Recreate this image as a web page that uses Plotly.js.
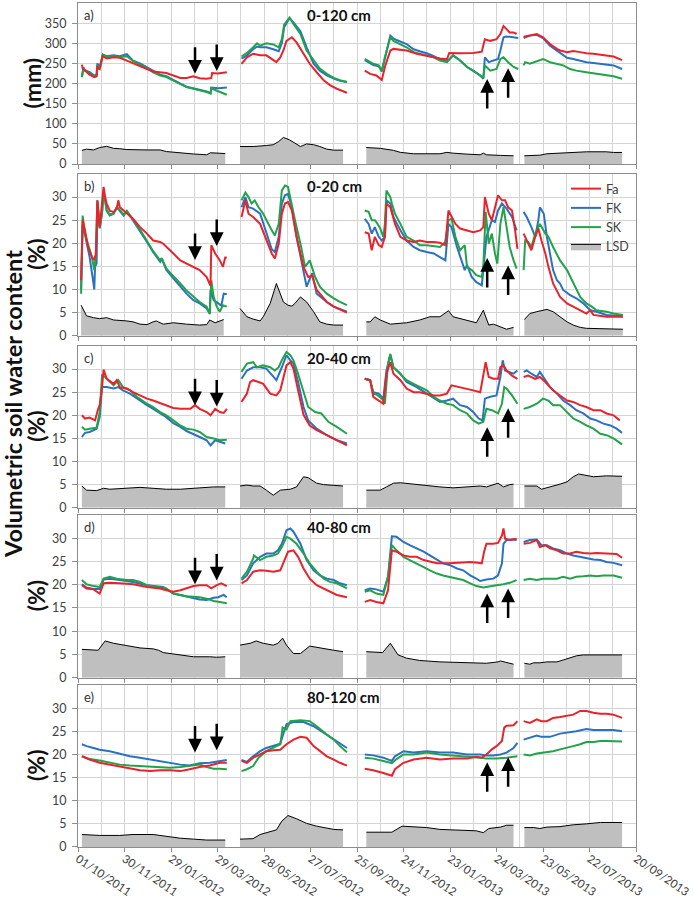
<!DOCTYPE html>
<html><head><meta charset="utf-8">
<script src="https://cdn.plot.ly/plotly-3.0.1.min.js"></script>
<style>html,body{margin:0;padding:0;background:#fff}#chart{width:694px;height:901px}</style>
</head><body><div id="chart"></div>
<script>
// x = days since 01/10/2011
const xTickDays = [0,60,120,180,240,300,360,420,480,540,600,660,720];
const xTickLabels = ['01/10/2011','30/11/2011','29/01/2012','29/03/2012','28/05/2012','27/07/2012','25/09/2012','24/11/2012','23/01/2013','24/03/2013','23/05/2013','22/07/2013','20/09/2013'];
const seriesNames = ['Fa','FK','SK','LSD'];
const panelLetters = ['a)','b)','c)','d)','e)'];
const depthLabels = ['0-120 cm','0-20 cm','20-40 cm','40-80 cm','80-120 cm'];
const yUnitLabels = ['(mm)','(%)','(%)','(%)','(%)'];
const yTicksMm = [0,50,100,150,200,250,300,350];
const yTicksPct = [0,5,10,15,20,25,30];
const arrowDays = [151,179,528,555];

// ---- panel a: 0-120 cm (mm) ----
const a_Fa = [[5,247],[6,238],[9,232],[15,222],[21,216],[24,218],[25,240],[28,236],[32,268],[37,262],[46,265],[54,264],[63,257],[71,250],[80,243],[89,236],[97,230],[106,227],[114,226],[123,220],[132,214],[140,214],[149,218],[157,213],[166,212],[172,214],[173,226],[180,225],[192,228],
null,[211,249],[218,265],[226,274],[235,270],[243,270],[252,257],[256,253],[261,265],[265,282],[269,306],[276,315],[282,302],[291,274],[299,249],[308,228],[317,208],[325,196],[334,187],[347,177],
null,[370,232],[377,224],[385,220],[392,209],[396,241],[403,282],[407,286],[424,282],[437,274],[450,268],[467,262],[476,260],[479,276],[493,275],[510,276],[521,279],[525,310],[532,306],[540,310],[545,323],[549,343],[553,335],[557,327],[562,327],[566,323],
null,[575,316],[583,319],[592,323],[600,315],[609,298],[618,286],[622,282],[631,278],[639,281],[648,278],[656,275],[665,274],[674,271],[682,270],[691,267],[702,258]];
const a_FK = [[5,216],[7,240],[9,233],[15,228],[21,220],[24,222],[25,250],[28,240],[32,272],[37,268],[46,270],[54,268],[63,273],[71,257],[80,250],[89,240],[97,230],[106,222],[114,218],[123,210],[132,200],[140,192],[149,188],[157,185],[166,180],[171,176],[172,190],[181,188],[192,190],
null,[211,262],[218,270],[226,285],[231,292],[235,290],[243,290],[252,285],[259,280],[263,300],[266,340],[269,350],[273,362],[278,352],[287,330],[295,290],[304,249],[312,232],[321,220],[330,212],[338,207],[347,204],
null,[370,258],[377,250],[381,246],[388,243],[392,230],[396,262],[403,319],[407,312],[411,308],[424,298],[433,285],[441,280],[450,275],[459,268],[467,260],[476,254],[484,270],[493,257],[502,241],[510,232],[519,220],[523,212],[525,265],[530,253],[536,257],[542,261],[545,282],[549,315],[553,317],[568,313],
null,[575,313],[583,319],[592,321],[600,313],[609,294],[618,282],[626,270],[631,264],[639,261],[648,257],[656,253],[665,251],[674,249],[682,247],[691,245],[702,236]];
const a_SK = [[5,216],[7,238],[9,232],[15,226],[21,218],[24,220],[25,245],[28,238],[32,272],[37,266],[46,268],[54,266],[63,268],[71,256],[80,248],[89,238],[97,228],[106,220],[114,216],[123,208],[132,199],[140,191],[149,187],[157,184],[166,179],[171,175],[172,188],[177,184],[185,178],[192,172],
null,[211,267],[218,276],[226,290],[231,300],[235,294],[243,300],[252,297],[259,290],[263,310],[266,346],[269,354],[273,364],[278,348],[287,323],[295,282],[304,257],[312,237],[321,224],[330,214],[338,208],[347,204],
null,[370,261],[377,253],[381,249],[388,245],[392,232],[396,265],[403,315],[407,306],[411,302],[424,290],[433,278],[441,274],[450,270],[459,265],[467,257],[476,253],[484,270],[493,257],[502,241],[510,232],[519,220],[523,214],[525,245],[532,232],[540,236],[545,261],[549,265],[555,253],[562,241],[568,236],
null,[575,245],[577,253],[583,249],[592,255],[600,261],[609,253],[618,249],[626,245],[635,236],[643,232],[656,228],[665,225],[674,222],[682,220],[691,218],[702,212]];
const a_LSD = [[5,34],[11,37],[20,35],[28,41],[37,44],[46,39],[54,38],[63,36],[89,35],[106,35],[114,31],[132,27],[149,25],[166,23],[171,28],[190,26],
null,[209,43.5],[226,43.5],[243,46],[252,48],[259,56],[265,66],[273,60],[282,48],[287,43.5],[295,50],[304,48],[312,43.5],[321,37],[330,34.5],[342,34.5],
null,[372,41],[390,39],[407,34],[416,29],[433,25.5],[450,25.5],[467,25.5],[476,29],[484,27],[502,24.6],[519,23],[523,27],[527,23],[545,21.4],[562,20.5],
null,[576,20.5],[588,20.5],[596,22],[605,25.5],[618,27],[639,28.8],[656,30.4],[682,30.4],[691,28.8],[702,28.8]];

// ---- panel b: 0-20 cm (%) ----
const b_Fa = [[4,12],[6,25],[9,22.8],[13,19.2],[18,17],[20,16.4],[23,17.4],[25,29.3],[28,23.5],[31,28.6],[33,32.2],[35,30],[37,28.6],[41,27],[46,26.8],[50,27.5],[52,29.3],[54,27.8],[63,26.4],[71,25.3],[80,23.5],[89,22.1],[97,20.6],[106,20.3],[110,19.9],[114,19.2],[123,17.8],[132,16.3],[140,15.6],[149,14.9],[157,14.2],[166,12.7],[171,10.8],[172,19.6],[177,17.8],[183,16.3],[187,14.9],[190,16.9],[192,16.9],
null,[211,25.7],[216,29.3],[220,26.4],[226,25.7],[235,24.2],[243,20.6],[250,17.8],[254,16.7],[259,19.9],[263,26.4],[267,28.6],[271,28.9],[276,27.1],[282,21.4],[291,14.9],[297,12.7],[302,13],[308,9.9],[321,7.3],[330,6.3],[347,5],
null,[370,22.4],[375,22.1],[379,18.5],[383,21.4],[388,19.6],[392,19.2],[396,21.4],[398,28.6],[403,27.8],[409,24.2],[416,21.4],[424,20.6],[433,20.3],[441,20.6],[450,20.3],[459,20.3],[467,20.1],[474,19.6],[478,27.1],[482,25.7],[487,24.2],[493,23.2],[502,22.8],[510,22.4],[519,22.8],[523,23.5],[525,30],[530,26.4],[534,25],[538,27.5],[542,30.4],[547,29.3],[551,29.3],[555,27.8],[560,27.1],[564,22.8],[567,18.8],
null,[575,22.1],[579,20.6],[585,18.5],[590,21.4],[594,23.2],[598,20.6],[603,17.8],[607,14.9],[613,11.3],[622,8.4],[631,7],[639,6.3],[648,5.5],[656,4.8],[661,5.5],[665,4.5],[682,4.1],[703,4.1]];
const b_FK = [[4,10],[6,24],[7,23.5],[11,19.9],[15,17],[20,11.3],[21,10],[22,14.9],[24,15.6],[25,28.9],[28,23.5],[31,26.4],[33,31.4],[35,29.3],[37,27],[41,26],[46,26.4],[50,27.8],[54,27],[59,26],[63,27],[71,25],[80,22.8],[89,20.3],[97,18.1],[106,16],[108,16.7],[114,14.2],[123,12.4],[132,10.6],[140,9.1],[149,7.7],[157,7],[166,5.9],[170,4.8],[171,9.9],[175,7.7],[181,7],[185,6.5],[188,9.1],[192,9],
null,[211,27.8],[216,30],[220,27.8],[226,27.5],[235,26.4],[243,22.1],[250,18.7],[254,18.1],[259,21.4],[263,28.6],[267,30.4],[271,30.7],[276,27.8],[282,21.4],[289,15.6],[295,10.6],[302,13.5],[308,9.1],[321,7.3],[330,6.3],[347,5.2],
null,[370,25.3],[375,24.2],[379,22.1],[383,23.5],[388,21.4],[392,20.6],[396,21.4],[398,29.3],[403,28.6],[407,25.7],[416,22.8],[424,20.6],[433,19.2],[441,18.5],[450,18.1],[459,17.8],[467,17],[474,16.3],[478,24.2],[482,23.5],[489,19.2],[495,16.3],[499,14.2],[502,15.3],[508,12.7],[514,11.6],[521,10.9],[523,14.2],[527,21.4],[534,25],[538,24.6],[542,27.1],[547,28.6],[553,27.5],[560,25.7],[566,22.8],
null,[575,26.8],[579,25.7],[585,23.5],[590,21.4],[594,25],[596,27.8],[601,26.4],[605,21.4],[609,17.8],[613,14.2],[618,12],[622,11.3],[626,9.9],[635,8.8],[643,8.1],[652,7],[661,5.5],[669,5.2],[682,4.5],[691,4.3],[703,4.2]];
const b_SK = [[4,9.1],[6,26],[9,22],[13,19.6],[18,17],[21,14.2],[23,17.8],[25,29.3],[28,23.2],[31,26.6],[33,31],[35,29.3],[37,27.2],[41,26.2],[46,26.5],[50,27.8],[54,27.2],[59,26.2],[63,27],[71,25.2],[80,23],[89,20.5],[97,18.3],[106,16.3],[108,16.8],[114,14.5],[123,13],[132,11.3],[140,9.8],[149,8.4],[157,7.3],[166,6.3],[170,4.7],[172,12],[175,8.4],[179,6.3],[183,5.2],[187,6.6],[192,6.3],
null,[211,29.3],[216,31],[220,30],[224,28.6],[228,29.3],[233,27.8],[239,26.4],[243,25],[250,22.8],[254,21.7],[259,24.2],[263,31.4],[267,32.5],[271,32.2],[276,28.6],[280,25],[287,19.9],[293,14.9],[299,16.3],[306,12.7],[312,10.6],[321,9.1],[330,8.1],[338,7.3],[347,6.6],
null,[370,27.1],[375,26.8],[379,25],[383,25],[385,24.6],[390,23.2],[394,21.4],[396,24.2],[398,31.4],[403,30],[405,28.6],[409,26.4],[416,24.2],[424,21.4],[433,20.6],[441,19.6],[450,19.6],[459,19.4],[467,19.2],[474,20.3],[478,25],[482,25.3],[487,21.4],[493,18.5],[499,19.6],[502,14.9],[508,14.2],[514,13.1],[521,12.7],[523,14.9],[526,26.8],[530,19.9],[534,22.1],[538,17.8],[541,15.6],[545,24.2],[549,27.8],[553,23.5],[557,19.2],[562,16.3],[566,14.5],
null,[575,14.2],[577,20.6],[581,20.3],[585,19.2],[590,22.1],[596,24.2],[603,22.1],[607,21.4],[613,19.2],[622,16.3],[631,14.2],[639,11.3],[648,8.4],[656,7],[663,6.3],[669,5.5],[682,5.2],[691,4.8],[703,4.5]];
const b_LSD = [[4,6.6],[7,5.5],[11,4.3],[20,3.9],[28,3.7],[37,3.9],[46,3.4],[63,3.2],[71,3],[80,2.5],[89,2.4],[97,3],[101,3.2],[110,2.5],[123,2.8],[140,2.5],[157,2.3],[166,2.4],[170,3.4],[177,2.8],[188,3.5],
null,[209,5.9],[218,4.1],[226,3.6],[235,3.2],[239,4.1],[248,7],[256,11.3],[265,7.3],[271,6.6],[276,6.4],[280,7],[287,8.4],[295,7.3],[304,5.2],[312,3],[321,2.5],[330,2.3],[342,2.3],
null,[372,3],[377,3],[383,4.1],[390,3.4],[403,2.5],[424,2.8],[441,3.4],[454,4.1],[467,4.1],[478,5.4],[484,4.1],[493,3.7],[502,3.4],[514,2.8],[523,5.5],[530,2.3],[536,2.5],[545,1.9],[553,1.4],[562,1.8],
null,[576,3.5],[583,4.8],[592,5.2],[605,5.7],[613,5.2],[622,4.1],[631,3],[639,2.3],[648,1.8],[656,1.6],[674,1.5],[682,1.4],[703,1.4]];

// ---- panel c: 20-40 cm (%) ----
const c_Fa = [[5,20],[9,19.3],[15,19.5],[22,18.9],[26,21.4],[28,22.2],[31,26],[33,29.9],[37,27.9],[46,26.8],[50,27.6],[54,26.1],[63,25.8],[71,25],[80,24.3],[89,23.6],[97,23.2],[106,22.7],[114,22.2],[123,21.6],[132,21.4],[145,21.4],[151,22.2],[157,21.4],[166,20.7],[171,20],[177,21.4],[183,20.7],[188,20.5],[192,21.4],
null,[211,22.9],[218,24.7],[222,27.2],[226,27.6],[233,27.2],[239,26.8],[248,24.7],[256,24.3],[261,25.4],[265,28.3],[269,30.8],[274,31.5],[278,30.1],[284,25.4],[291,20.1],[299,17.8],[308,16.8],[321,15.7],[334,14.6],[347,13.5],
null,[370,27.9],[377,27.6],[381,24],[388,23.2],[394,22.5],[398,29],[403,31.5],[407,29],[416,27.6],[424,25.8],[433,25],[441,25],[450,24.7],[459,24.3],[467,24.3],[476,24.7],[482,26.5],[493,26.1],[502,25.8],[510,25.4],[519,25],[523,28.3],[526,31.5],[530,28.3],[536,27.9],[542,27.9],[545,30.4],[549,30.8],[553,29.7],[560,28.6],[567,27.9],
null,[575,28.3],[581,28.6],[590,27.9],[596,28.3],[603,27.2],[613,25.4],[622,24.3],[631,23.2],[639,22.9],[648,22.2],[656,21.8],[665,21.1],[674,21.1],[682,20.4],[691,20],[699,18.9]];
const c_FK = [[5,15.3],[9,16.2],[15,16.4],[24,17.1],[28,19.6],[31,26.1],[37,26.1],[46,25.8],[52,26.1],[58,25.4],[67,24.7],[76,23.6],[89,22.2],[97,21.4],[106,20.4],[114,19.6],[123,18.3],[132,17.5],[140,16.6],[149,16],[157,15.3],[166,14.6],[171,13.5],[177,14.6],[183,14.2],[190,13.9],
null,[211,27.9],[218,29.7],[226,30.4],[235,30.4],[243,30.1],[252,28.3],[256,27.6],[263,30.4],[269,33],[274,31.9],[278,31.2],[284,27.2],[291,21.8],[297,18.9],[308,17.1],[321,15.7],[334,14.6],[347,13.9],
null,[370,27.9],[377,27.6],[381,25],[388,24.7],[394,23.6],[398,29.7],[403,33],[407,30.4],[416,29],[424,27.2],[437,26.1],[450,24.7],[459,23.6],[467,22.9],[476,23.2],[484,23.6],[493,22.2],[502,21.8],[510,20.7],[517,19.3],[522,18.9],[525,23.6],[532,24],[540,24.3],[545,28.3],[548,31.9],[551,29.7],[557,29.4],[562,29],[567,29.7],
null,[575,29.4],[579,29.7],[585,29],[592,28.3],[596,29.4],[603,27.6],[609,26.1],[618,24.7],[626,23.2],[635,22.2],[643,21.1],[652,20.4],[661,19.3],[669,18.9],[678,18.2],[687,17.8],[695,17.1],[702,16.2]];
const c_SK = [[5,17.5],[9,16.9],[15,17.1],[24,17.3],[28,20.7],[31,28.6],[35,28.3],[41,27.2],[46,26.5],[52,27.6],[58,26.1],[67,25.4],[76,24],[89,22.5],[97,21.8],[106,20.7],[114,20],[123,18.9],[132,17.8],[140,17.1],[149,16.9],[157,16.4],[166,15.3],[175,15],[183,14.6],[192,14.7],
null,[211,29.4],[218,31.2],[226,31.5],[231,30.4],[239,30.8],[248,30.4],[254,29.7],[259,30.4],[263,31.9],[269,33.7],[274,33],[278,31.9],[284,29],[291,25],[297,21.8],[306,20.7],[314,20.4],[323,18.6],[334,17.5],[347,16],
null,[370,27.9],[377,27.6],[381,24.7],[385,24.5],[392,23.6],[396,22.5],[400,31.2],[403,33.3],[407,30.4],[416,29],[424,27.6],[433,26.8],[441,26.1],[450,25.4],[459,24],[467,23.2],[476,22.5],[484,22.2],[493,21.1],[502,20.4],[510,18.9],[517,18.2],[523,18.6],[527,21.4],[534,21.1],[542,20.4],[547,22.5],[550,26.1],[553,25.8],[560,24.3],[567,22.5],
null,[575,21.4],[583,21.8],[592,22.5],[600,23.6],[607,23.2],[613,22.2],[622,22.2],[631,20.7],[639,19.3],[648,18.6],[656,17.8],[665,17.1],[674,16],[682,15.7],[691,15],[702,13.7]];
const c_LSD = [[5,4.7],[11,3.8],[24,3.7],[33,4.2],[41,4],[63,4.2],[80,4.4],[97,4.2],[114,4],[132,4],[149,4.2],[166,4.4],[175,4.5],[190,4.5],
null,[209,4.7],[218,4.9],[226,4.7],[235,4.7],[243,3.8],[252,2.7],[261,3.8],[274,4],[282,4.5],[291,6.7],[297,6.5],[308,5.3],[317,5],[330,4.9],[342,4.7],
null,[372,3.8],[390,3.8],[398,4.5],[407,5.3],[416,5.4],[433,5.1],[450,4.7],[467,4.5],[484,4.3],[502,4.5],[519,4.7],[527,4.5],[542,5.3],[549,4.5],[557,5],[562,5.1],
null,[576,4.7],[592,4.7],[598,4],[605,4.3],[622,5.1],[631,5.6],[639,6.7],[646,7.3],[656,7],[665,6.7],[682,6.9],[702,6.8]];

// ---- panel d: 40-80 cm (%) ----
const d_Fa = [[5,19.9],[11,19.2],[20,19],[28,18.1],[33,20.3],[41,20.4],[54,20.3],[71,20.1],[89,19.5],[106,19.2],[114,18.8],[123,18.5],[132,18.8],[140,19.2],[149,19.7],[157,19.9],[166,19.9],[172,19.2],[179,19.9],[185,20.3],[192,19.7],
null,[211,20.3],[218,21],[226,22.8],[235,23.1],[243,23],[252,22.8],[261,23.1],[265,24.6],[271,27.1],[278,27.4],[284,26],[291,23.5],[299,21.3],[308,19.9],[317,19.2],[325,18.5],[334,17.8],[347,17.3],
null,[370,16.3],[377,16.7],[385,16.3],[394,16],[400,18.8],[405,27.4],[411,27.1],[420,26.3],[428,26],[437,26],[446,25.3],[454,24.9],[463,24.6],[480,24.6],[489,24.7],[506,24.9],[516,24.7],[521,24.6],[524,27.1],[527,28.8],[536,28.8],[542,29],[547,30.6],[549,32.1],[551,29.9],[557,29.6],[566,29.9],
null,[575,28.8],[583,29],[592,29.6],[596,28.1],[603,28.5],[609,27.8],[618,27.4],[626,26.7],[635,26.7],[643,27.1],[652,26.8],[661,26.7],[669,26.8],[678,26.7],[687,26.6],[695,26.6],[702,25.8]];
const d_FK = [[5,20.1],[11,19.4],[20,19.1],[28,19.1],[33,21.1],[41,21.3],[54,21],[71,20.6],[89,19.9],[110,19.5],[123,18.1],[140,17.5],[157,16.8],[166,16.7],[175,17.2],[181,17.3],[188,17.8],[192,17.3],
null,[211,21],[218,22],[226,24.6],[235,26],[243,26.7],[252,26.7],[258,27.4],[263,28.8],[269,31.7],[274,32.1],[278,31.4],[287,28.8],[295,25.3],[304,23.1],[312,22],[321,21.3],[330,21],[338,20.3],[347,19.9],
null,[370,18.8],[377,19.2],[385,19],[394,18.5],[400,21.7],[405,30.4],[411,30.3],[420,29.2],[428,28.5],[437,27.8],[446,27.1],[454,26.3],[463,25.3],[471,24.6],[480,24.2],[489,23.5],[497,23.1],[506,22],[514,21.3],[519,20.8],[527,21.1],[536,21.3],[542,22],[547,24.6],[549,28.8],[553,29.6],[560,29.7],[566,29.6],
null,[575,29.2],[583,29.6],[592,29.7],[598,28.5],[605,28.5],[613,27.8],[622,27.4],[631,26.7],[639,26.3],[648,26],[656,25.6],[665,25.4],[674,25.3],[682,24.9],[691,24.7],[702,24.2]];
const d_SK = [[5,21],[11,20.1],[20,19.7],[28,19.5],[33,21.3],[41,21.7],[50,21.3],[63,21],[71,21],[80,20.6],[89,19.9],[97,19.7],[106,19.5],[114,19.2],[123,18.1],[132,17.8],[140,17.5],[149,17.4],[157,17.3],[166,17],[175,16.5],[183,16.3],[192,16],
null,[211,21.3],[218,22.8],[226,25.6],[227,26.3],[235,25.3],[243,26],[252,26.3],[258,26.7],[263,28.1],[269,30.3],[274,29.9],[282,28.8],[291,26.7],[299,24.6],[308,22.8],[317,21.3],[325,20.6],[334,20.3],[347,19.2],
null,[370,18.5],[377,18.8],[385,18.1],[394,17.8],[400,21.7],[405,28.5],[411,27.4],[420,26],[428,25.3],[437,24.6],[446,23.8],[454,23.1],[463,22.4],[471,22],[480,21.7],[489,21.3],[497,21],[506,20.3],[514,19.7],[523,19.4],[532,19.7],[540,19.9],[549,20.1],[557,20.4],[566,21],
null,[575,21],[583,21.3],[592,21],[600,21.3],[618,21.3],[626,21.7],[635,21.3],[643,21.7],[652,21.8],[661,22],[669,21.8],[678,22],[691,22],[695,21.8],[702,21.5]];
const d_LSD = [[5,6.1],[26,5.9],[35,7.9],[46,7.4],[63,6.9],[80,6.4],[97,6.2],[104,5.9],[110,5.4],[123,5.1],[132,4.8],[149,4.5],[170,4.5],[179,4.4],[190,4.5],
null,[209,7],[222,7.4],[230,7.9],[239,7.4],[252,7],[258,7.4],[264,8.5],[269,7],[278,5.2],[287,5.2],[299,6.8],[308,6.5],[321,6.1],[330,5.9],[342,5.6],
null,[372,5.6],[393,5.4],[403,7.4],[413,4.9],[424,4.2],[441,3.7],[467,3.4],[489,3.3],[510,3.2],[527,3.1],[542,3.4],[545,3.6],[562,2.9],
null,[576,3.1],[583,2.9],[588,3.2],[596,3.2],[605,3.4],[618,3.4],[626,3.8],[635,4.3],[643,4.7],[652,4.9],[682,4.9],[702,4.9]];

// ---- panel e: 80-120 cm (%) ----
const e_Fa = [[5,19.6],[15,18.9],[28,18.2],[41,17.8],[54,17.3],[67,16.9],[80,16.6],[93,16.4],[106,16.6],[119,16.6],[132,16.4],[144,16.8],[157,17.3],[170,17.6],[183,18.2],[192,18.2],
null,[211,18.6],[218,18.2],[226,19.3],[235,20],[243,20.7],[252,20.9],[261,21],[269,22.2],[278,23.2],[287,23.8],[295,23.6],[304,21.8],[312,20.7],[321,19.6],[330,18.9],[338,18.2],[347,17.6],
null,[370,16.9],[381,16.6],[394,16],[405,15.4],[409,16.8],[420,18.2],[433,18.9],[450,19.3],[467,18.9],[484,19.1],[502,19.1],[514,19.5],[521,19.3],[527,20],[534,21.1],[540,21.8],[547,22.9],[550,25.8],[553,26.2],[562,26.3],[567,27.2],
null,[575,27.2],[583,26.8],[592,27.6],[598,27.2],[605,27.2],[613,27.9],[622,28.1],[631,28.4],[639,28.6],[648,29.4],[656,29.4],[665,29],[674,28.8],[682,28.8],[691,28.6],[702,27.9]];
const e_FK = [[5,22.2],[11,21.8],[20,21.4],[28,21],[41,20.7],[54,20.2],[67,19.6],[80,19.3],[93,18.9],[106,18.6],[119,18.2],[132,17.8],[144,17.6],[157,18.1],[170,18.2],[183,18.6],[192,18.8],
null,[211,18.8],[218,18.4],[226,19.6],[235,20.7],[243,21.4],[252,21.9],[261,22.3],[265,24.5],[269,26.5],[278,27],[291,27],[304,26.1],[317,24.7],[330,23.4],[347,21.4],
null,[370,20],[381,19.8],[394,19.3],[405,18.6],[409,19.6],[420,20.7],[433,20.4],[450,20.7],[467,20.4],[484,20.4],[502,20],[519,20],[527,19.8],[536,19.8],[545,20],[553,20.4],[562,21.4],[567,22.5],
null,[575,23.2],[583,23.6],[592,24.1],[598,23.8],[609,23.8],[622,24.5],[635,24.8],[643,25],[656,25.5],[665,25.3],[691,25.3],[702,25]];
const e_SK = [[5,19.6],[15,19],[28,18.7],[41,18.2],[54,17.8],[67,17.6],[80,17.5],[93,17.3],[106,17.3],[119,17.1],[132,17.3],[144,17.6],[157,17.8],[166,17.3],[175,16.9],[183,16.9],[192,16.8],
null,[211,16.4],[218,16.8],[226,17.5],[233,19.3],[243,20.7],[252,21.4],[261,22.2],[264,25.8],[269,25.4],[274,27.2],[287,27.4],[299,27.2],[308,26.1],[321,24.3],[330,23.2],[338,21.8],[347,20.5],
null,[370,19.3],[381,19.1],[394,18.6],[405,18.1],[411,19],[420,20],[433,20],[450,20.4],[467,20],[484,19.8],[502,19.6],[519,19.3],[527,19.1],[540,19.1],[553,19.3],[562,19.5],[567,19.6],
null,[575,20],[583,19.8],[592,20.2],[600,20.4],[613,20.7],[622,21.1],[631,21.4],[639,21.8],[648,22.2],[656,22.7],[665,22.7],[674,22.9],[682,22.9],[691,22.9],[702,22.8]];
const e_LSD = [[5,2.7],[28,2.5],[54,2.5],[71,2.7],[97,2.7],[106,2.5],[114,2.2],[132,1.9],[149,1.7],[166,1.5],[190,1.5],
null,[209,1.7],[226,1.8],[235,2.7],[243,3.1],[256,3.7],[263,5.6],[271,6.8],[282,6.1],[295,5.1],[308,4.5],[321,4],[330,3.8],[342,3.7],
null,[372,3.2],[405,3.2],[418,4.5],[433,4.3],[450,4.2],[467,3.8],[484,3.7],[502,3.5],[514,3.5],[523,3.1],[530,4],[545,4.3],[553,4.7],[562,4.7],
null,[576,4.2],[588,4.2],[596,4],[605,4.3],[622,4.4],[639,4.8],[656,5],[674,5.3],[702,5.3]];

// arrow tips (value at arrow point) per panel: two down arrows, two up arrows
const arrowTipsA = [224,231,211,238];
const arrowTipsB = [16.4,19.4,16.8,15.2];
const arrowTipsC = [22.2,21.9,17.4,21.5];
const arrowTipsD = [20.1,20.9,18.1,19.2];
const arrowTipsE = [20.4,20.9,18.3,19.4];

// ---------------- build ----------------
const panels = [
  {Fa:a_Fa, FK:a_FK, SK:a_SK, LSD:a_LSD, tips:arrowTipsA},
  {Fa:b_Fa, FK:b_FK, SK:b_SK, LSD:b_LSD, tips:arrowTipsB},
  {Fa:c_Fa, FK:c_FK, SK:c_SK, LSD:c_LSD, tips:arrowTipsC},
  {Fa:d_Fa, FK:d_FK, SK:d_SK, LSD:d_LSD, tips:arrowTipsD},
  {Fa:e_Fa, FK:e_FK, SK:e_SK, LSD:e_LSD, tips:arrowTipsE}
];
const colors = {Fa:'#e8232b', FK:'#2a72c0', SK:'#22a24a'};
const ranks = {Fa:1, FK:2, SK:3, LSD:4};
const domains = [[0.8092,1],[0.6058,0.7974],[0.4020,0.5936],[0.2006,0.3934],[0,0.1919]];
const PH = 844; // plot pixel height (for offsets)

function splitSeg(pts){
  const segs=[]; let cur=[];
  pts.forEach(p=>{ if(p===null){ if(cur.length) segs.push(cur); cur=[]; } else cur.push(p); });
  if(cur.length) segs.push(cur);
  return segs;
}

const traces = [];
const layout = {
  width:694, height:901,
  margin:{l:78, r:58, t:3, b:54},
  paper_bgcolor:'#ffffff', plot_bgcolor:'#ffffff',
  font:{family:'Lato, "Open Sans", sans-serif', size:12, color:'#404040'},
  showlegend:true,
  legend:{x:(566-78)/558, y:1-(174-3)/PH, xanchor:'left', yanchor:'top', bgcolor:'rgba(0,0,0,0)',
          font:{size:12.5, color:'#404040'}, tracegroupgap:0, itemwidth:30},
  annotations:[], hovermode:false
};

panels.forEach((p, i) => {
  const n = i===0 ? '' : String(i+1);
  const xa = 'x'+n, ya = 'y'+n;
  splitSeg(p.LSD).forEach((seg, j) => {
    traces.push({type:'scatter', mode:'lines', x:seg.map(q=>q[0]), y:seg.map(q=>q[1]),
      xaxis:xa, yaxis:ya, fill:'tozeroy', fillcolor:'#bfbfbf', line:{color:'#000000', width:1},
      name:'LSD', legendgroup:'LSD', legendrank:ranks.LSD, showlegend:(i===0 && j===0)});
  });
  ['FK','SK','Fa'].forEach(nm => {
    const pts = p[nm];
    traces.push({type:'scatter', mode:'lines', x:pts.map(q=>q?q[0]:null), y:pts.map(q=>q?q[1]:null),
      connectgaps:false, xaxis:xa, yaxis:ya, line:{color:colors[nm], width:2},
      name:nm, legendgroup:nm, legendrank:ranks[nm], showlegend:(i===0)});
  });

  const isMm = i===0;
  layout['xaxis'+n] = {
    domain:[0,1], range:[0,720], anchor:ya, matches: i===0?undefined:'x',
    tickmode:'array', tickvals:xTickDays, ticktext:xTickLabels, showticklabels:(i===4),
    tickangle:34, tickfont:{size:11.5, color:'#404040'}, ticklabelstandoff:-4,
    ticks:'outside', ticklen:4, tickcolor:'#8c8c8c',
    showgrid:true, gridcolor:'#d4d4d4', gridwidth:1,
    minor:{tickmode:'linear', tick0:0, dtick:30, showgrid:true, gridcolor:'#d4d4d4', gridwidth:1, ticks:''},
    showline:true, mirror:true, linecolor:'#8c8c8c', linewidth:1, zeroline:false, fixedrange:true
  };
  layout['yaxis'+n] = {
    domain:domains[i], range: isMm ? [0,400] : [0,35], anchor:xa,
    tickmode:'array', tickvals: isMm ? yTicksMm : yTicksPct,
    tickfont:{size:12.5, color:'#404040'}, ticks:'outside', ticklen:5, tickcolor:'#8c8c8c', ticklabelstandoff:3,
    showgrid:true, gridcolor:'#d4d4d4', gridwidth:1,
    showline:true, mirror:true, linecolor:'#8c8c8c', linewidth:1, zeroline:false, fixedrange:true
  };

  const top = domains[i][1], bot = domains[i][0];
  layout.annotations.push({xref:'paper', yref:'paper', x:(82-78)/558, y:top-12/PH, xanchor:'left', yanchor:'middle',
    text:panelLetters[i], showarrow:false, font:{size:13, color:'#333333'}});
  layout.annotations.push({xref:'paper', yref:'paper', x:(305-78)/558, y:top-12/PH, xanchor:'left', yanchor:'middle',
    text:'<b>'+depthLabels[i]+'</b>', showarrow:false, font:{size:15, color:'#111111'}});
  layout.annotations.push({xref:'paper', yref:'paper', x:((isMm?32:36)-78)/558, y:(top+bot)/2, xanchor:'center', yanchor:'middle',
    text:'<b>'+yUnitLabels[i]+'</b>', textangle:-90, showarrow:false, font:{size:23, color:'#111111'}});
  arrowDays.forEach((d, k) => {
    const down = k < 2;
    layout.annotations.push({xref:xa, yref:ya, x:d, y:p.tips[k], text:'', showarrow:true,
      ax:0, ay: down ? -28 : 31, arrowhead:2, arrowsize:1.1, arrowwidth:2.5, arrowcolor:'#000000', standoff:0});
  });
});

layout.annotations.push({xref:'paper', yref:'paper', x:(13-78)/558, y:1-(404-3)/PH, xanchor:'center', yanchor:'middle',
  text:'<b>Volumetric soil water content</b>', textangle:-90, showarrow:false, font:{size:23.5, color:'#111111'}});

Plotly.newPlot('chart', traces, layout, {staticPlot:true, displayModeBar:false});
</script></body></html>
